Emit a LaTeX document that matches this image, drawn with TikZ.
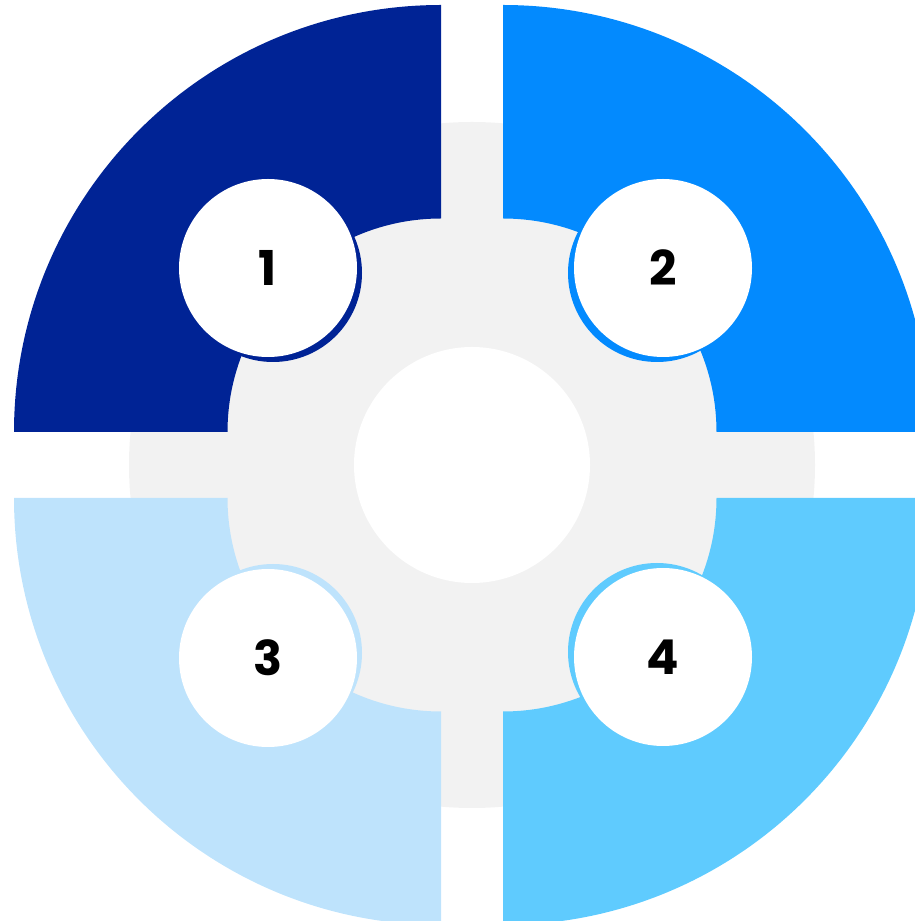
\documentclass[tikz,border=0pt]{standalone}
\usepackage{fontspec}
\newfontfamily\numfont{Poppins}
\usepackage{xcolor}
\usetikzlibrary{positioning, calc}

\definecolor{qdark}{HTML}{002395}
\definecolor{qmid}{HTML}{038AFE}
\definecolor{qlight}{HTML}{BEE3FC}
\definecolor{qsky}{HTML}{5FCBFE}
\definecolor{hubgray}{HTML}{F2F2F2}

\begin{document}
\begin{tikzpicture}[x=1pt, y=1pt,
    ring/.style={circle, minimum size=178pt, inner sep=0pt},
    numdot/.style={ring, fill=white, font=\numfont\bfseries\fontsize{48}{48}\selectfont}]
    \useasboundingbox (0,0) rectangle (915,921);
    \clip (0,0) rectangle (915,921);
    % grey hub behind the quadrants
    \fill[hubgray] (472,456) circle (343);
    % the four quadrant bands
    \foreach \cx/\cy/\a/\c in {441/489/90/qdark, 503/489/0/qmid, 441/423/180/qlight, 503/423/270/qsky}
        \fill[\c] ([shift={(\a:213.5)}]\cx,\cy) -- ([shift={(\a:427)}]\cx,\cy)
            arc[start angle=\a, end angle=\a+90, radius=427]
            -- ([shift={(\a+90:213.5)}]\cx,\cy)
            arc[start angle=\a+90, end angle=\a, radius=213.5] -- cycle;
    \node[circle, fill=white, minimum size=236pt, inner sep=0pt] (hub) at (472,456) {};
    % numbered dots with a coloured ring
    \node[ring, fill=qdark] (r1) at (273,648) {};
    \node[ring, fill=qmid] (r2) at (657,648) {};
    \node[ring, fill=qlight] (r3) at (273,268) {};
    \node[ring, fill=qsky] (r4) at (657,269) {};
    \node[numdot] (n1) at (268,653) {1};
    \node[numdot] (n2) at (663,653) {2};
    \node[numdot] (n3) at (268,263) {3};
    \node[numdot] (n4) at (663,264) {4};
\end{tikzpicture}
\end{document}
